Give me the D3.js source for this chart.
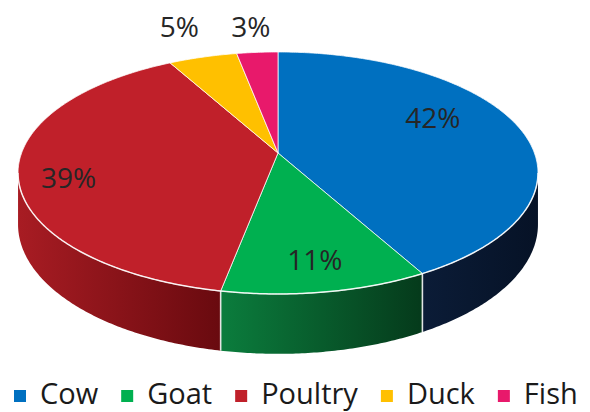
<!DOCTYPE html>
<html>
<head>
<meta charset="utf-8">
<script src="https://cdn.jsdelivr.net/npm/d3@7/dist/d3.min.js"></script>
<style>
  html, body { margin: 0; padding: 0; background: #ffffff; }
  svg { display: block; }
  text { font-family: "Open Sans", "Noto Sans", sans-serif; }
</style>
</head>
<body>
<svg id="chart" width="590" height="412"></svg>
<script>
// Share of livestock sources (percent)
const categories = ["Cow", "Goat", "Poultry", "Duck", "Fish"];
const values = [42, 11, 39, 5, 3];
const topColors = ["#0070c0", "#00b050", "#c0202a", "#ffc000", "#e8196b"];
const sideLight = ["#0b1c37", "#0b7d3d", "#a81c23", "#b88a00", "#a8104c"];
const sideDark = ["#061226", "#053a1b", "#690a0f", "#7a5c00", "#6e0a32"];

const svg = d3.select("#chart");
const defs = svg.append("defs");

// Perspective disc: vertex, half-width, half-depth, foreshortening, thickness
const P = { cx: 278, cy: 153, A: 256.4, B: 117.7, k: 0.165, H: 50 };

// Project a point at pie angle a (clockwise from 12 o'clock) and radius factor r
function project(a, r = 1, drop = false) {
  const u = r * Math.sin(a), v = -r * Math.cos(a);
  const d = 1 - P.k * v;
  return [P.cx + P.A * u / d, P.cy + P.B * v / d + (drop ? P.H / d : 0)];
}

function arcPoints(a0, a1, drop) {
  const n = Math.max(2, Math.ceil(Math.abs(a1 - a0) / 0.01));
  return d3.range(n + 1).map(i => project(a0 + (a1 - a0) * i / n, 1, drop));
}

const pie = d3.pie().sort(null).startAngle(0).endAngle(2 * Math.PI);
const arcs = pie(values);

// Visible front band of the rim, between the two silhouette tangent points
const frontStart = Math.acos(-P.k);
const frontEnd = 2 * Math.PI - frontStart;

const line = d3.line();

// Side walls
const sides = svg.append("g");
arcs.forEach((d, i) => {
  const s = Math.max(d.startAngle, frontStart);
  const e = Math.min(d.endAngle, frontEnd);
  if (e <= s) return;
  const gid = "side" + i;
  const g = defs.append("linearGradient").attr("id", gid)
    .attr("x1", "0%").attr("x2", "100%").attr("y1", "0%").attr("y2", "0%");
  g.append("stop").attr("offset", "0%").attr("stop-color", sideLight[i]);
  g.append("stop").attr("offset", "100%").attr("stop-color", sideDark[i]);
  const pts = arcPoints(s, e, false).concat(arcPoints(e, s, true));
  sides.append("path")
    .attr("d", line(pts) + "Z")
    .attr("fill", `url(#${gid})`);
});

// Vertical seams where slices meet on the wall
arcs.forEach(d => {
  const a = d.startAngle;
  if (a > frontStart && a < frontEnd) {
    const p0 = project(a, 1, false), p1 = project(a, 1, true);
    sides.append("line")
      .attr("x1", p0[0]).attr("y1", p0[1]).attr("x2", p1[0]).attr("y2", p1[1])
      .attr("stroke", "#f4f4f4").attr("stroke-width", 1.6).attr("opacity", 0.9);
  }
});

// Top faces
const tops = svg.append("g");
arcs.forEach((d, i) => {
  const pts = [[P.cx, P.cy]].concat(arcPoints(d.startAngle, d.endAngle, false));
  tops.append("path")
    .attr("d", line(pts) + "Z")
    .attr("fill", topColors[i])
    .attr("stroke", "#ffffff")
    .attr("stroke-opacity", 0.75)
    .attr("stroke-width", 1)
    .attr("stroke-linejoin", "round");
});

// Highlight along the front rim
tops.append("path")
  .attr("d", line(arcPoints(frontStart, frontEnd, false)))
  .attr("fill", "none")
  .attr("stroke", "#ffffff")
  .attr("stroke-opacity", 0.8)
  .attr("stroke-width", 1.5);

// Percentage labels: radius factor and vertical nudge per slice
const labelPlace = [
  { r: 0.64, dy: -17 },
  { r: 0.80, dy: 0 },
  { r: 0.81, dy: 10 },
  { r: 1.38, dy: 0 },
  { r: 1.38, dy: 6 }
];
const labels = svg.append("g");
arcs.forEach((d, i) => {
  const mid = (d.startAngle + d.endAngle) / 2;
  const p = project(mid, labelPlace[i].r);
  labels.append("text")
    .attr("x", p[0])
    .attr("y", p[1] + labelPlace[i].dy)
    .attr("dy", "0.36em")
    .attr("text-anchor", "middle")
    .attr("font-size", 28)
    .attr("fill", "#262626")
    .text(values[i] + "%");
});

// Legend
const legend = svg.append("g").attr("transform", "translate(14,0)");
let lx = 0;
categories.forEach((c, i) => {
  const item = legend.append("g").attr("transform", `translate(${lx},0)`);
  item.append("rect")
    .attr("x", 0).attr("y", 390).attr("width", 12).attr("height", 12)
    .attr("fill", topColors[i]);
  const t = item.append("text")
    .attr("x", 26).attr("y", 404)
    .attr("font-size", 29)
    .attr("fill", "#1a1a1a")
    .text(c);
  lx += 26 + t.node().getComputedTextLength() + 23;
});
</script>
</body>
</html>
